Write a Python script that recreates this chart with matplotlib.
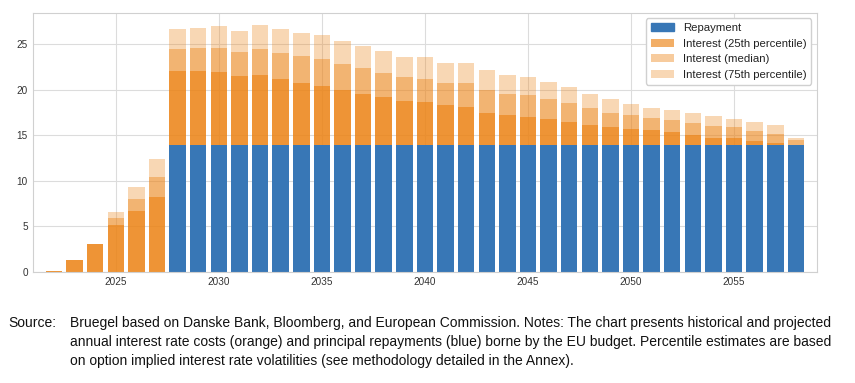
import matplotlib
matplotlib.use("Agg")
import matplotlib.pyplot as plt
import numpy as np
from matplotlib.patches import Patch

# years on the x axis
years = list(range(2022, 2059))

# principal repayments (EUR bn)
repayment = [0.0] * 6 + [13.9] * 31

# interest cost above the repayment, three percentiles
interest_p25 = [0.1, 1.3, 3.1, 5.2, 6.7, 8.2,
                8.2, 8.2, 8.1, 7.6, 7.7, 7.3, 6.9, 6.5, 6.1, 5.7, 5.3, 4.9, 4.8, 4.4,
                4.2, 3.55, 3.3, 3.15, 2.9, 2.6, 2.3, 2.05, 1.85, 1.7, 1.5, 1.15, 0.85,
                0.8, 0.5, 0.25, 0.05]
interest_med = [0.1, 1.3, 3.1, 5.9, 8.0, 10.4,
                10.65, 10.7, 10.75, 10.25, 10.6, 10.2, 9.8, 9.5, 8.9, 8.5, 8.0, 7.5, 7.35, 6.9,
                6.85, 6.1, 5.7, 5.55, 5.1, 4.7, 4.1, 3.6, 3.35, 3.05, 2.8, 2.45, 2.1,
                2.0, 1.6, 1.25, 0.65]
interest_p75 = [0.1, 1.3, 3.1, 6.55, 9.3, 12.4,
                12.85, 12.95, 13.15, 12.6, 13.2, 12.75, 12.35, 12.1, 11.45, 10.95, 10.35, 9.75, 9.7, 9.1,
                9.1, 8.3, 7.8, 7.55, 7.0, 6.45, 5.7, 5.1, 4.6, 4.1, 3.9, 3.55, 3.2,
                2.95, 2.55, 2.2, 0.8]

labels = ["Repayment", "Interest (25th percentile)", "Interest (median)",
          "Interest (75th percentile)"]

BLUE = "#3877b6"
ORANGE = "#ec8417"
ALPHAS = {"p25": 0.66, "med": 0.42, "p75": 0.32}

plt.rcParams["font.family"] = ["Liberation Sans", "DejaVu Sans"]

fig = plt.figure(figsize=(8.55, 3.83), dpi=100)
ax = fig.add_axes([0.039, 0.29, 0.916, 0.677])

# grid below, light seaborn-like style
ax.set_axisbelow(True)
ax.grid(True, color="#dcdcdc", linewidth=0.8)
for s in ax.spines.values():
    s.set_color("#d0d0d0")
    s.set_linewidth(0.8)

w = 0.8
ax.bar(years, repayment, width=w, color=BLUE)
ax.bar(years, interest_p75, width=w, bottom=repayment, color=ORANGE, alpha=ALPHAS["p75"], linewidth=0)
ax.bar(years, interest_med, width=w, bottom=repayment, color=ORANGE, alpha=ALPHAS["med"], linewidth=0)
ax.bar(years, interest_p25, width=w, bottom=repayment, color=ORANGE, alpha=ALPHAS["p25"], linewidth=0)

ax.set_xlim(2021, 2059)
ax.set_ylim(0, 28.5)
ax.set_xticks(range(2025, 2059, 5))
ax.set_yticks(range(0, 26, 5))
ax.tick_params(length=0, labelsize=7.2, colors="#333333", pad=4)

handles = [Patch(color=BLUE),
           Patch(color=ORANGE, alpha=ALPHAS["p25"], linewidth=0),
           Patch(color=ORANGE, alpha=ALPHAS["med"], linewidth=0),
           Patch(color=ORANGE, alpha=ALPHAS["p75"], linewidth=0)]
leg = ax.legend(handles, labels, loc="upper right", fontsize=8.2, frameon=True,
                fancybox=True, edgecolor="#d0d0d0", framealpha=1)
for t in leg.get_texts():
    t.set_color("#222222")

# caption below the chart
lines = [
    "Bruegel based on Danske Bank, Bloomberg, and European Commission. Notes: The chart presents historical and projected",
    "annual interest rate costs (orange) and principal repayments (blue) borne by the EU budget. Percentile estimates are based",
    "on option implied interest rate volatilities (see methodology detailed in the Annex).",
]
cap_size = 10
src = fig.text(8 / 855, 1 - 323 / 383, "Source:", fontsize=cap_size,
               va="center", ha="left", color="#111111")
cap_texts = []
for i, line in enumerate(lines):
    cap_texts.append(fig.text(70 / 855, 1 - (323 + 19 * i) / 383, line, fontsize=cap_size,
                              va="center", ha="left", color="#111111"))

# shrink caption so the widest line ends near x=828 px, like the reference
renderer = fig.canvas.get_renderer()
widest = max(t.get_window_extent(renderer).width for t in cap_texts)
new_size = cap_size * (828 - 70) / widest
for t in cap_texts + [src]:
    t.set_fontsize(new_size)

fig.savefig("out.png", dpi=100)
